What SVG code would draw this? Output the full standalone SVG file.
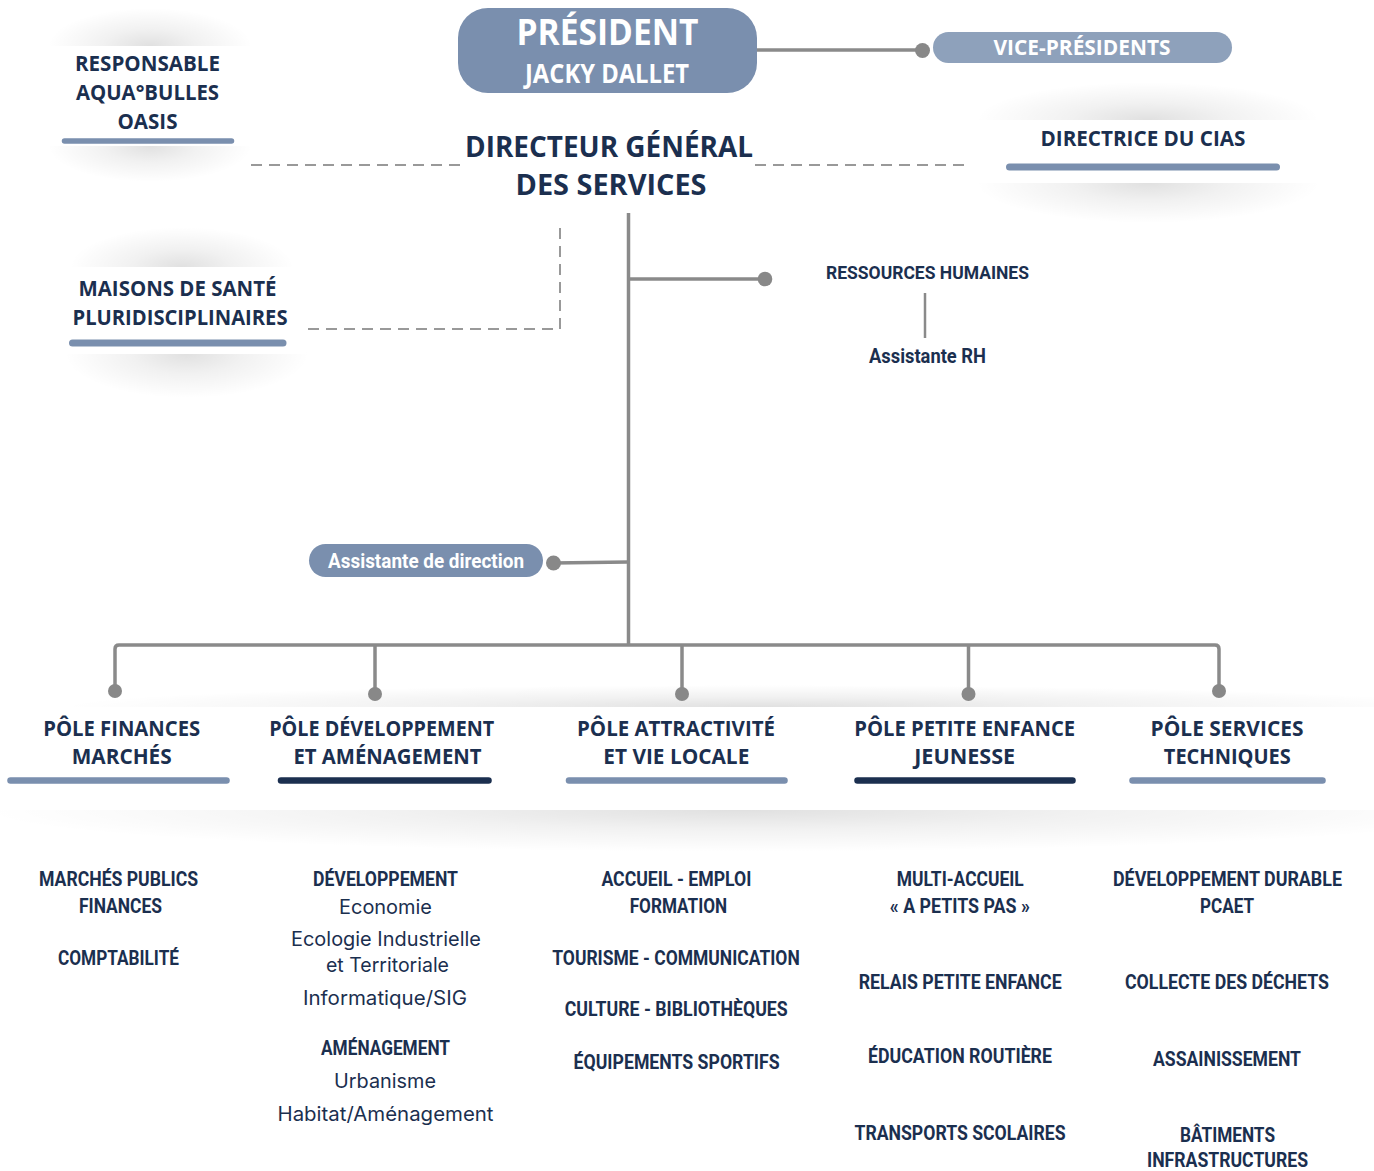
<svg xmlns="http://www.w3.org/2000/svg" width="1374" height="1171" viewBox="0 0 1374 1171">
<style>
.t{font-family:"Open Sans","Noto Sans",sans-serif;font-weight:700;fill:#1b2f4f;text-anchor:middle}
.w{fill:#ffffff}
.c{font-family:Roboto,"Liberation Sans",sans-serif;font-weight:700;fill:#1b2f4f;text-anchor:middle;font-size:20px}
.r{font-family:Inter,"Liberation Sans",sans-serif;font-weight:400;fill:#1b2f4f;text-anchor:middle;font-size:19.5px}
.pill{fill:#7a8fae}
.bl{stroke:#7a8fae;stroke-linecap:round;fill:none}
.bd{stroke:#1b2f4f;stroke-linecap:round;fill:none}
.ln{stroke:#8a8a8a;stroke-width:3.5;fill:none}
.dash{stroke:#999999;stroke-width:2;stroke-dasharray:11 7;fill:none}
.dot{fill:#888888}
.sh{fill:url(#shg)}
.band{fill:#ffffff}
</style>
<defs>
<radialGradient id="shg">
<stop offset="0" stop-color="#000" stop-opacity="0.12"/>
<stop offset="0.45" stop-color="#000" stop-opacity="0.055"/>
<stop offset="1" stop-color="#000" stop-opacity="0"/>
</radialGradient>
</defs>
<rect width="1374" height="1171" fill="#ffffff"/>

<g id="band-poles">
<ellipse class="sh" cx="760" cy="707" rx="700" ry="22"/>
<ellipse class="sh" cx="740" cy="810" rx="760" ry="42"/>
<rect class="band" x="0" y="707" width="1374" height="103"/>
</g>

<g id="node-president">
<rect class="pill" x="458" y="8" width="299" height="85" rx="30"/>
<text class="t w" x="607.5" y="45" font-size="35" textLength="182" lengthAdjust="spacingAndGlyphs">PRÉSIDENT</text>
<text class="t w" x="607" y="82.5" font-size="26.5" textLength="164" lengthAdjust="spacingAndGlyphs">JACKY DALLET</text>
</g>

<g id="node-vice-presidents">
<rect x="933" y="32" width="299" height="31" rx="15.5" fill="#8ea1bb"/>
<text class="t w" x="1082" y="55" font-size="22" textLength="177" lengthAdjust="spacingAndGlyphs">VICE-PRÉSIDENTS</text>
</g>

<g id="node-dgs">
<text class="t" x="609" y="157" font-size="28" textLength="288" lengthAdjust="spacingAndGlyphs">DIRECTEUR GÉNÉRAL</text>
<text class="t" x="611" y="195" font-size="28" textLength="191" lengthAdjust="spacingAndGlyphs">DES SERVICES</text>
</g>

<g id="node-aquabulles">
<ellipse class="sh" cx="150" cy="46" rx="102" ry="38"/>
<ellipse class="sh" cx="150" cy="146" rx="102" ry="36"/>
<rect class="band" x="40" y="46" width="225" height="100"/>
<text class="t" x="147.5" y="71" font-size="22" textLength="145" lengthAdjust="spacingAndGlyphs">RESPONSABLE</text>
<text class="t" x="147.5" y="100" font-size="22" textLength="143" lengthAdjust="spacingAndGlyphs">AQUA°BULLES</text>
<text class="t" x="147.5" y="128.5" font-size="22" textLength="60" lengthAdjust="spacingAndGlyphs">OASIS</text>
<line class="bl" x1="64.5" y1="141" x2="231.5" y2="141" stroke-width="5.5"/>
</g>

<g id="node-maisons-sante">
<ellipse class="sh" cx="182" cy="267" rx="112" ry="40"/>
<ellipse class="sh" cx="187" cy="354" rx="122" ry="44"/>
<rect class="band" x="50" y="267" width="256" height="87"/>
<text class="t" x="177.5" y="295.5" font-size="22" textLength="198" lengthAdjust="spacingAndGlyphs">MAISONS DE SANTÉ</text>
<text class="t" x="180" y="324.5" font-size="22" textLength="215" lengthAdjust="spacingAndGlyphs">PLURIDISCIPLINAIRES</text>
<line class="bl" x1="72.5" y1="343" x2="283" y2="343" stroke-width="7"/>
</g>

<g id="node-cias">
<ellipse class="sh" cx="1148" cy="120" rx="172" ry="38"/>
<ellipse class="sh" cx="1148" cy="183" rx="172" ry="40"/>
<rect class="band" x="975" y="120" width="345" height="63"/>
<text class="t" x="1143" y="145.5" font-size="22" textLength="205" lengthAdjust="spacingAndGlyphs">DIRECTRICE DU CIAS</text>
<line class="bl" x1="1009.5" y1="167" x2="1276.5" y2="167" stroke-width="7"/>
</g>

<g id="node-rh">
<text class="c" x="927.5" y="278.5" style="font-size:18px" textLength="203" lengthAdjust="spacingAndGlyphs">RESSOURCES HUMAINES</text>
<text class="c" x="927.5" y="362.5" style="font-size:20.5px" textLength="117" lengthAdjust="spacingAndGlyphs">Assistante RH</text>
</g>

<g id="node-assistante-direction">
<rect class="pill" x="309" y="544" width="234" height="33" rx="16.5"/>
<text class="c w" x="426" y="568" style="font-size:21px;fill:#ffffff" textLength="196" lengthAdjust="spacingAndGlyphs">Assistante de direction</text>
</g>

<g id="connectors">
<line class="ln" x1="757" y1="50" x2="922" y2="50"/>
<circle class="dot" cx="922.5" cy="50.5" r="7.5"/>
<line class="dash" x1="251" y1="165" x2="463" y2="165"/>
<line class="dash" x1="755" y1="165" x2="968" y2="165"/>
<path class="dash" d="M560 228 V329 H307"/>
<line class="ln" x1="628.5" y1="213" x2="628.5" y2="645"/>
<line class="ln" x1="628.5" y1="279" x2="765" y2="279"/>
<circle class="dot" cx="765" cy="279" r="7.3"/>
<line class="ln" x1="553" y1="563" x2="628.5" y2="562"/>
<circle class="dot" cx="553.5" cy="563" r="7.5"/>
<line x1="925" y1="293" x2="925" y2="338" stroke="#8a8a8a" stroke-width="2.5"/>
<path class="ln" d="M115 691 V649 Q115 645 119 645 H1215 Q1219 645 1219 649 V691"/>
<line class="ln" x1="375" y1="645" x2="375" y2="694"/>
<line class="ln" x1="682" y1="645" x2="682" y2="694"/>
<line class="ln" x1="968.5" y1="645" x2="968.5" y2="694"/>
<circle class="dot" cx="115" cy="691" r="7"/>
<circle class="dot" cx="375" cy="694" r="7"/>
<circle class="dot" cx="682" cy="694" r="7"/>
<circle class="dot" cx="968.5" cy="694" r="7"/>
<circle class="dot" cx="1219" cy="691" r="7"/>
</g>

<g id="pole-finances">
<text class="t" x="121.7" y="735.7" font-size="22" textLength="157" lengthAdjust="spacingAndGlyphs">PÔLE FINANCES</text>
<text class="t" x="121.7" y="763.5" font-size="22" textLength="100" lengthAdjust="spacingAndGlyphs">MARCHÉS</text>
<line class="bl" x1="10.5" y1="780.5" x2="226.5" y2="780.5" stroke-width="6.5"/>
<text class="c" x="118.5" y="886" textLength="159" lengthAdjust="spacingAndGlyphs">MARCHÉS PUBLICS</text>
<text class="c" x="120.5" y="913" textLength="83" lengthAdjust="spacingAndGlyphs">FINANCES</text>
<text class="c" x="118.5" y="965" textLength="121" lengthAdjust="spacingAndGlyphs">COMPTABILITÉ</text>
</g>

<g id="pole-developpement">
<text class="t" x="381.7" y="735.7" font-size="22" textLength="225" lengthAdjust="spacingAndGlyphs">PÔLE DÉVELOPPEMENT</text>
<text class="t" x="387.5" y="763.5" font-size="22" textLength="188" lengthAdjust="spacingAndGlyphs">ET AMÉNAGEMENT</text>
<line class="bd" x1="281" y1="780.5" x2="488.5" y2="780.5" stroke-width="6.5"/>
<text class="c" x="385.5" y="886" textLength="145" lengthAdjust="spacingAndGlyphs">DÉVELOPPEMENT</text>
<text class="r" x="385.5" y="914" textLength="93" lengthAdjust="spacingAndGlyphs">Economie</text>
<text class="r" x="386" y="945.5" textLength="190" lengthAdjust="spacingAndGlyphs">Ecologie Industrielle</text>
<text class="r" x="387.5" y="972" textLength="123" lengthAdjust="spacingAndGlyphs">et Territoriale</text>
<text class="r" x="385" y="1005" textLength="164" lengthAdjust="spacingAndGlyphs">Informatique/SIG</text>
<text class="c" x="385.5" y="1055" textLength="129" lengthAdjust="spacingAndGlyphs">AMÉNAGEMENT</text>
<text class="r" x="385" y="1088" textLength="102" lengthAdjust="spacingAndGlyphs">Urbanisme</text>
<text class="r" x="385.5" y="1121" textLength="216" lengthAdjust="spacingAndGlyphs">Habitat/Aménagement</text>
</g>

<g id="pole-attractivite">
<text class="t" x="676" y="735.7" font-size="22" textLength="198" lengthAdjust="spacingAndGlyphs">PÔLE ATTRACTIVITÉ</text>
<text class="t" x="676.3" y="763.5" font-size="22" textLength="146" lengthAdjust="spacingAndGlyphs">ET VIE LOCALE</text>
<line class="bl" x1="569" y1="780.5" x2="784.5" y2="780.5" stroke-width="6.5"/>
<text class="c" x="676.4" y="886" textLength="150" lengthAdjust="spacingAndGlyphs">ACCUEIL - EMPLOI</text>
<text class="c" x="678.4" y="913" textLength="97.5" lengthAdjust="spacingAndGlyphs">FORMATION</text>
<text class="c" x="676" y="965" textLength="247.5" lengthAdjust="spacingAndGlyphs">TOURISME - COMMUNICATION</text>
<text class="c" x="676.2" y="1016" textLength="223" lengthAdjust="spacingAndGlyphs">CULTURE - BIBLIOTHÈQUES</text>
<text class="c" x="676.6" y="1068.5" textLength="206" lengthAdjust="spacingAndGlyphs">ÉQUIPEMENTS SPORTIFS</text>
</g>

<g id="pole-petite-enfance">
<text class="t" x="964.7" y="735.7" font-size="22" textLength="221" lengthAdjust="spacingAndGlyphs">PÔLE PETITE ENFANCE</text>
<text class="t" x="964.7" y="763.5" font-size="22" textLength="101" lengthAdjust="spacingAndGlyphs">JEUNESSE</text>
<line class="bd" x1="857.5" y1="780.5" x2="1072.5" y2="780.5" stroke-width="6.5"/>
<text class="c" x="960.2" y="886" textLength="127" lengthAdjust="spacingAndGlyphs">MULTI-ACCUEIL</text>
<text class="c" x="959.8" y="913" textLength="140" lengthAdjust="spacingAndGlyphs">« A PETITS PAS »</text>
<text class="c" x="960.2" y="988.5" textLength="203" lengthAdjust="spacingAndGlyphs">RELAIS PETITE ENFANCE</text>
<text class="c" x="960" y="1062.5" textLength="184" lengthAdjust="spacingAndGlyphs">ÉDUCATION ROUTIÈRE</text>
<text class="c" x="960" y="1140" textLength="211" lengthAdjust="spacingAndGlyphs">TRANSPORTS SCOLAIRES</text>
</g>

<g id="pole-services-techniques">
<text class="t" x="1227" y="735.7" font-size="22" textLength="153" lengthAdjust="spacingAndGlyphs">PÔLE SERVICES</text>
<text class="t" x="1227.3" y="763.5" font-size="22" textLength="127" lengthAdjust="spacingAndGlyphs">TECHNIQUES</text>
<line class="bl" x1="1132.5" y1="780.5" x2="1322.5" y2="780.5" stroke-width="6.5"/>
<text class="c" x="1227.5" y="886" textLength="229" lengthAdjust="spacingAndGlyphs">DÉVELOPPEMENT DURABLE</text>
<text class="c" x="1227" y="913" textLength="54" lengthAdjust="spacingAndGlyphs">PCAET</text>
<text class="c" x="1227" y="988.5" textLength="204" lengthAdjust="spacingAndGlyphs">COLLECTE DES DÉCHETS</text>
<text class="c" x="1227" y="1066" textLength="148" lengthAdjust="spacingAndGlyphs">ASSAINISSEMENT</text>
<text class="c" x="1227.5" y="1142" textLength="95" lengthAdjust="spacingAndGlyphs">BÂTIMENTS</text>
<text class="c" x="1227.5" y="1167" textLength="161" lengthAdjust="spacingAndGlyphs">INFRASTRUCTURES</text>
</g>
</svg>
